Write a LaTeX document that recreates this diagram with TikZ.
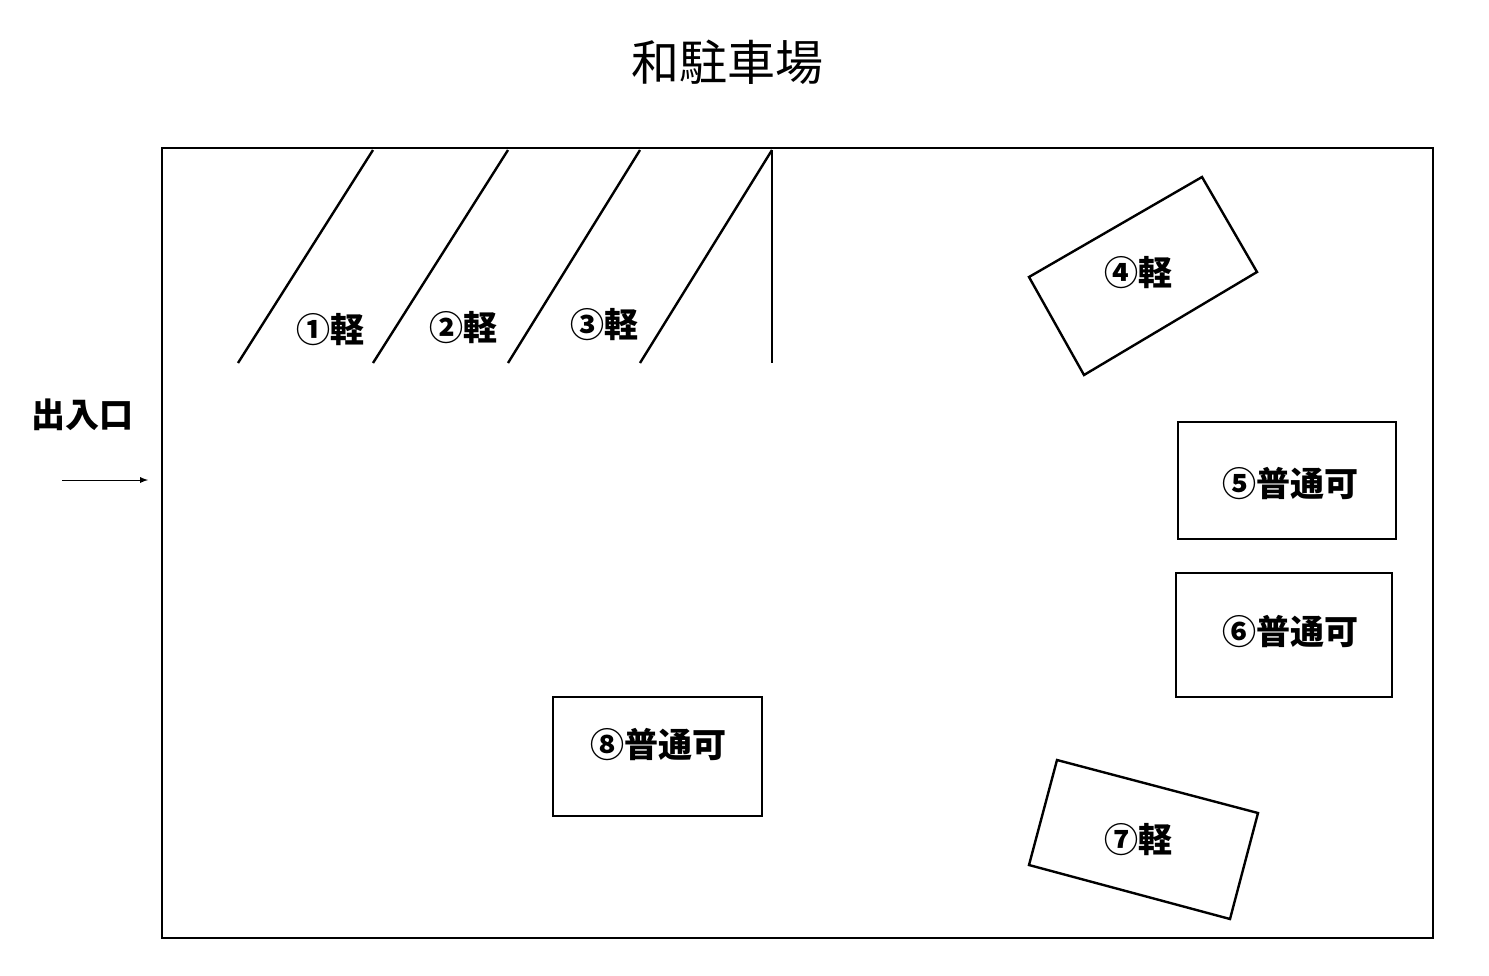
\documentclass[tikz,border=0pt]{standalone}
\usepackage{fontspec}
\setmainfont{Noto Sans CJK JP}
\begin{document}
\begin{tikzpicture}[x=0.5pt,y=-0.5pt]
	\tikzstyle{lot}=[line width=1.2pt]
	\tikzstyle{lbl}=[font=\fontsize{17}{20}\selectfont\bfseries]
	\useasboundingbox (0,0) rectangle (1489,975);
	\node (title) at (727,62) {\fontsize{24}{28}\selectfont 和駐車場};
	\draw [lot] (162,148) rectangle (1433,938);
	% spaces along the top
	\draw [lot] (238,363) -- (373,150);
	\draw [lot] (373,363) -- (508,150);
	\draw [lot] (508,363) -- (640,150);
	\draw [lot] (640,363) -- (772,150);
	\draw [lot] (772,150) -- (772,363);
	\node [lbl] (s1) at (330,330) {①軽};
	\node [lbl] (s2) at (463,328) {②軽};
	\node [lbl] (s3) at (604,325) {③軽};
	% entrance
	\node [lbl] (gate) at (83,415) {出入口};
	\coordinate (in1) at (62,480);
	\coordinate (in2) at (148,480);
	\draw [-latex, thin] (in1) -- (in2);
	% single spaces
	\draw [lot] (1029,277) -- (1202,177) -- (1257,272) -- (1084,375) -- cycle;
	\node [lbl] (s4) at (1138,273) {④軽};
	\draw [lot] (1178,422) rectangle (1396,539);
	\node [lbl] (s5) at (1290,484) {⑤普通可};
	\draw [lot] (1176,573) rectangle (1392,697);
	\node [lbl] (s6) at (1290,632) {⑥普通可};
	\draw [lot] (1057,760) -- (1258,813) -- (1230,919) -- (1029,865) -- cycle;
	\node [lbl] (s7) at (1138,840) {⑦軽};
	\draw [lot] (553,697) rectangle (762,816);
	\node [lbl] (s8) at (658,745) {⑧普通可};
\end{tikzpicture}
\end{document}
